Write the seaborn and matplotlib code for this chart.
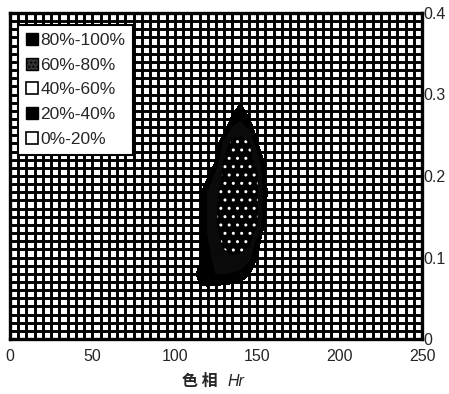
import numpy as np
import pandas as pd
import matplotlib
matplotlib.use("Agg")
import matplotlib.pyplot as plt
import seaborn as sns
from matplotlib.patches import Patch

# hue (x) and chroma (y) grid, values are % of samples
hue = [100, 105, 110, 115, 120, 125, 130, 135, 140, 145, 150, 155, 160, 165]
chroma = [0.04, 0.06, 0.08, 0.10, 0.12, 0.14, 0.16, 0.18, 0.20,
          0.22, 0.24, 0.26, 0.28, 0.30, 0.32]

share = [
    [0, 0, 0, 0, 0, 0, 0, 0, 0, 0, 0, 0, 0, 0],           # 0.04
    [0, 5, 16, 17, 15, 12, 10, 8, 5, 3, 0, 0, 0, 0],      # 0.06
    [0, 2, 12, 26, 36, 40, 40, 38, 34, 22, 5, 0, 0, 0],   # 0.08
    [0, 0, 4, 15, 35, 45, 55, 58, 56, 45, 20, 3, 0, 0],   # 0.10
    [0, 0, 5, 16, 38, 52, 65, 70, 70, 66, 30, 5, 0, 0],   # 0.12
    [0, 0, 6, 20, 42, 58, 68, 74, 75, 72, 60, 15, 0, 0],  # 0.14
    [0, 0, 5, 18, 42, 58, 70, 76, 77, 74, 62, 20, 3, 0],  # 0.16
    [0, 0, 3, 15, 40, 55, 68, 75, 77, 74, 62, 25, 5, 0],  # 0.18
    [0, 0, 0, 5, 18, 45, 65, 72, 74, 72, 62, 20, 5, 0],   # 0.20
    [0, 0, 0, 0, 5, 20, 62, 70, 72, 68, 50, 10, 0, 0],    # 0.22
    [0, 0, 0, 0, 0, 8, 45, 68, 70, 62, 22, 5, 0, 0],      # 0.24
    [0, 0, 0, 0, 0, 0, 10, 40, 45, 35, 5, 0, 0, 0],       # 0.26
    [0, 0, 0, 0, 0, 0, 5, 15, 30, 10, 0, 0, 0, 0],        # 0.28
    [0, 0, 0, 0, 0, 0, 0, 0, 10, 0, 0, 0, 0, 0],          # 0.30
    [0, 0, 0, 0, 0, 0, 0, 0, 0, 0, 0, 0, 0, 0],           # 0.32
]

levels = [20, 40, 60, 80, 100]
band_labels = ["80%-100%", "60%-80%", "40%-60%", "20%-40%", "0%-20%"]

df = pd.DataFrame(share, index=chroma, columns=hue)

sns.set_theme(style="white")
plt.rcParams["font.family"] = ["Liberation Sans", "DejaVu Sans"]
plt.rcParams["hatch.color"] = "#9a9a9a"
plt.rcParams["hatch.linewidth"] = 1.0

fig = plt.figure(figsize=(4.49, 3.94), dpi=100)
ax = fig.add_axes([10 / 449, 1 - 339 / 394, 412 / 449, 326 / 394])

# the 0-20% band is the grid pattern covering the whole plot
ax.set_xlim(0, 250)
ax.set_ylim(0, 0.4)
ax.set_xticks([0, 50, 100, 150, 200, 250])
ax.set_xticklabels(["0", "50", "100", "150", "200", "250"])
ax.set_xticks(np.arange(0, 251, 5), minor=True)
ax.set_yticks([0, 0.1, 0.2, 0.3, 0.4])
ax.set_yticklabels(["0", "0.1", "0.2", "0.3", "0.4"])
ax.set_yticks(np.arange(0, 0.401, 0.01), minor=True)
ax.grid(which="both", color="black", linewidth=2.1)
ax.set_axisbelow(True)

X, Y = np.meshgrid(df.columns.values, df.index.values)
ax.contourf(X, Y, df.values, levels=levels,
            colors=["black", "#0a0a0a", "black", "black"],
            hatches=[None, None, "..", None], zorder=2)

ax.yaxis.tick_right()
ax.tick_params(which="both", length=0)
ax.tick_params(axis="x", pad=7, labelsize=11.5)
ax.tick_params(axis="y", pad=1, labelsize=11.5)
for s in ax.spines.values():
    s.set_color("black")
    s.set_linewidth(2.4)

handles = [
    Patch(facecolor="black", edgecolor="black"),
    Patch(facecolor="#333333", edgecolor="black", hatch="...."),
    Patch(facecolor="white", edgecolor="black", linewidth=1.2),
    Patch(facecolor="black", edgecolor="black"),
    Patch(facecolor="white", edgecolor="black", linewidth=1.2),
]
leg = ax.legend(handles, band_labels, loc="upper left",
                bbox_to_anchor=(0.019, 0.963), borderaxespad=0,
                fontsize=12.5, handlelength=0.7, handleheight=0.7,
                handletextpad=0.15, labelspacing=0.55, borderpad=0.45,
                fancybox=False, framealpha=1, edgecolor="black")
leg.get_frame().set_linewidth(1.5)
leg.set_zorder(5)

fig.text(182 / 449, 1 - 381 / 394, "色 相", ha="left", va="center",
         fontsize=11.5, fontweight="bold", family=["Noto Sans CJK SC", "DejaVu Sans"])
fig.text(228 / 449, 1 - 381 / 394, "Hr", ha="left", va="center",
         fontsize=11.5, style="italic", family=["Liberation Sans", "DejaVu Sans"])

fig.savefig("out.png", dpi=100)
